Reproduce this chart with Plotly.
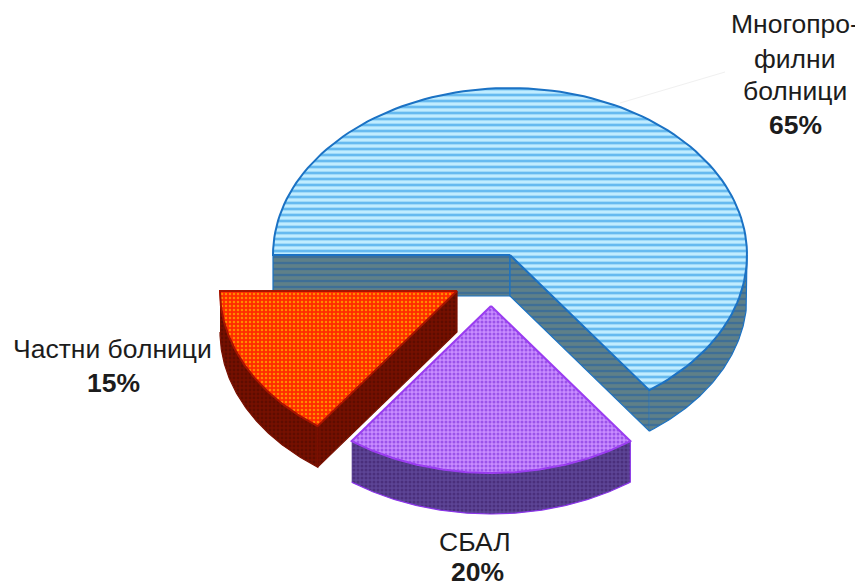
import numpy as np
import plotly.graph_objects as go

# data
categories = ["Многопрофилни болници", "СБАЛ", "Частни болници"]
shares = [65, 20, 15]
label_lines = [["Многопро-", "филни", "болници"], ["СБАЛ"], ["Частни болници"]]

# projection of the tilted pie, in picture pixels
RX, RY, DEPTH = 237, 167, 41
START_DEG = 180
PAGE_MARGIN = 8  # the page's body margin shifts the plot by this much
apex = [(510, 255), (491, 306), (457, 291)]
top_style = [
    dict(bg="#c0ecff", fg="#66baf0", shape="-", size=6, solid=0.45, line="#1b72c4"),
    dict(bg="#c98cff", fg="#9a52ea", shape=".", size=4, solid=0.45, line="#9a3df0"),
    dict(bg="#ff2c00", fg="#ff8a00", shape=".", size=4, solid=0.3, line="#a81400"),
]
side_style = [
    dict(bg="#5f8088", fg="#3f6f96", shape="-", size=6, solid=0.4, line="#1b72c4"),
    dict(bg="#5d4596", fg="#4a2f7c", shape=".", size=4, solid=0.45, line="#8a35e8"),
    dict(bg="#761000", fg="#5e0c00", shape=".", size=4, solid=0.4, line="#7a1000"),
]
label_pos = [
    dict(x=795, ys=[24, 59, 91], pct_y=125),
    dict(x=475, ys=[542], pct_y=572),
    dict(x=112, ys=[349], pct_y=383),
]
pct_x = [795, 477, 113]

fig = go.Figure()


def arc(cx, cy, t0, t1, n=120):
    t = np.radians(np.linspace(t0, t1, n))
    return cx + RX * np.cos(t), cy - RY * np.sin(t)


def poly(xs, ys, st, lw=1.6):
    fig.add_trace(go.Scatter(
        x=xs, y=ys, mode="lines", fill="toself", showlegend=False, hoverinfo="skip",
        fillcolor=st["bg"],
        line=dict(color=st["line"], width=lw),
        fillpattern=dict(shape=st["shape"], bgcolor=st["bg"], fgcolor=st["fg"],
                         size=st["size"], solidity=st["solid"], fillmode="replace"),
    ))


def wall(px, py, cx, cy, st):
    poly([px, cx, cx, px, px], [py, cy, cy + DEPTH, py + DEPTH, py], st, 1.2)


# wedge angles from the shares
angles = []
a = START_DEG
for s in shares:
    b = a - s * 3.6
    angles.append((a, b))
    a = b

for i, ((t0, t1), (cx, cy)) in enumerate(zip(angles, apex)):
    x, y = arc(cx, cy, t0, t1)
    st = side_style[i]
    if i == 0:  # both cut walls of the big wedge show
        wall(x[0], y[0], cx, cy, st)
        wall(x[-1], y[-1], cx, cy, st)
    if i == 2:  # the red wedge shows the wall at its lower end
        wall(x[0], y[0], cx, cy, st)
    # outer rim: only the arc part in front of the horizontal axis
    lo, hi = max(t1, -180), min(t0, 0)
    rx_, ry_ = arc(cx, cy, lo, hi)
    poly(list(rx_) + list(rx_[::-1]), list(ry_) + list(ry_[::-1] + DEPTH), st, 1.2)

for i, ((t0, t1), (cx, cy)) in enumerate(zip(angles, apex)):
    x, y = arc(cx, cy, t0, t1)
    poly([cx] + list(x) + [cx], [cy] + list(y) + [cy], top_style[i], 2)

# faint leader line of the largest slice
fig.add_trace(go.Scatter(x=[620, 725], y=[103, 72], mode="lines", showlegend=False,
                         hoverinfo="skip", line=dict(color="#f0f0f0", width=1)))

for lines, pos, s, px in zip(label_lines, label_pos, shares, pct_x):
    for text, y in zip(lines, pos["ys"]):
        fig.add_annotation(x=pos["x"], y=y, text=text, showarrow=False,
                           font=dict(family="Liberation Sans", size=26.5, color="#1c1c1c"))
    fig.add_annotation(x=px, y=pos["pct_y"], text=f"<b>{s}%</b>", showarrow=False,
                       font=dict(family="Liberation Sans", size=26.5, color="#1c1c1c"))

fig.update_xaxes(range=[PAGE_MARGIN, 863], visible=False, fixedrange=True)
fig.update_yaxes(range=[587, PAGE_MARGIN], visible=False, fixedrange=True)
fig.update_layout(width=863 - PAGE_MARGIN, height=587 - PAGE_MARGIN,
                  margin=dict(l=0, r=0, t=0, b=0),
                  paper_bgcolor="white", plot_bgcolor="white")
fig.write_html("out.html")
